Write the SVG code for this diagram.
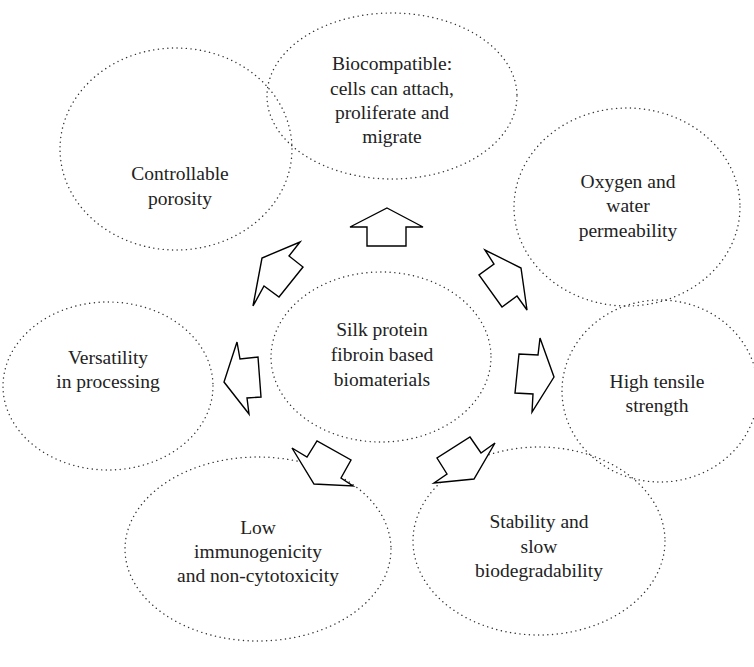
<svg xmlns="http://www.w3.org/2000/svg" width="754" height="667" viewBox="0 0 754 667">
<style>
.el{fill:none;stroke:#333;stroke-width:1.4;stroke-dasharray:0.1 4.6;stroke-linecap:round}
.ar{fill:#fff;stroke:#000;stroke-width:1.4;stroke-linejoin:miter}
text{font-family:"Liberation Serif","Times New Roman",serif;font-size:19.5px;fill:#222;text-anchor:middle}
</style>
<rect width="754" height="667" fill="#fff"/>
<g id="center"><ellipse class="el" cx="381" cy="357" rx="110" ry="85"/>
<text x="382" y="336">Silk protein</text><text x="382" y="361">fibroin based</text><text x="382" y="386">biomaterials</text></g>
<g id="biocompatible"><ellipse class="el" cx="392" cy="96" rx="125" ry="83"/>
<text x="392" y="70">Biocompatible:</text><text x="392" y="95">cells can attach,</text><text x="392" y="119">proliferate and</text><text x="392" y="143">migrate</text></g>
<g id="porosity"><ellipse class="el" cx="176" cy="149" rx="116" ry="101"/>
<text x="180" y="180">Controllable</text><text x="180" y="205">porosity</text></g>
<g id="oxygen"><ellipse class="el" cx="627" cy="207" rx="113" ry="99"/>
<text x="628" y="188">Oxygen and</text><text x="628" y="212">water</text><text x="628" y="237">permeability</text></g>
<g id="versatility"><ellipse class="el" cx="108" cy="386" rx="105" ry="84"/>
<text x="108" y="364">Versatility</text><text x="108" y="388">in processing</text></g>
<g id="tensile"><ellipse class="el" cx="660" cy="391" rx="98" ry="91"/>
<text x="657" y="388">High tensile</text><text x="657" y="412">strength</text></g>
<g id="immuno"><ellipse class="el" cx="258" cy="549" rx="133" ry="92"/>
<text x="258" y="534">Low</text><text x="258" y="558">immunogenicity</text><text x="258" y="582">and non-cytotoxicity</text></g>
<g id="stability"><ellipse class="el" cx="539" cy="541" rx="126" ry="94"/>
<text x="539" y="528">Stability and</text><text x="539" y="553">slow</text><text x="539" y="577">biodegradability</text></g>
<g id="connectors">
<polygon class="ar" points="387,208 423,227 406,227 406,246 367,246 367,227 350,227"/>
<polygon class="ar" points="300,242 289,256 303,267 279,297 264,286 253,306 262,258"/>
<polygon class="ar" points="485,250 494,264 479,275 502,307 517,296 527,310 521,268"/>
<polygon class="ar" points="237,342 240,359 258,357 261,397 247,398 249,414 224,382"/>
<polygon class="ar" points="540,338 538,355 519,354 515,393 533,394 532,412 554,377"/>
<polygon class="ar" points="292,448 307,457 317,441 351,460 341,478 353,486 314,484"/>
<polygon class="ar" points="495,443 481,453 470,437 437,458 447,474 434,483 474,479"/>
</g>
</svg>
